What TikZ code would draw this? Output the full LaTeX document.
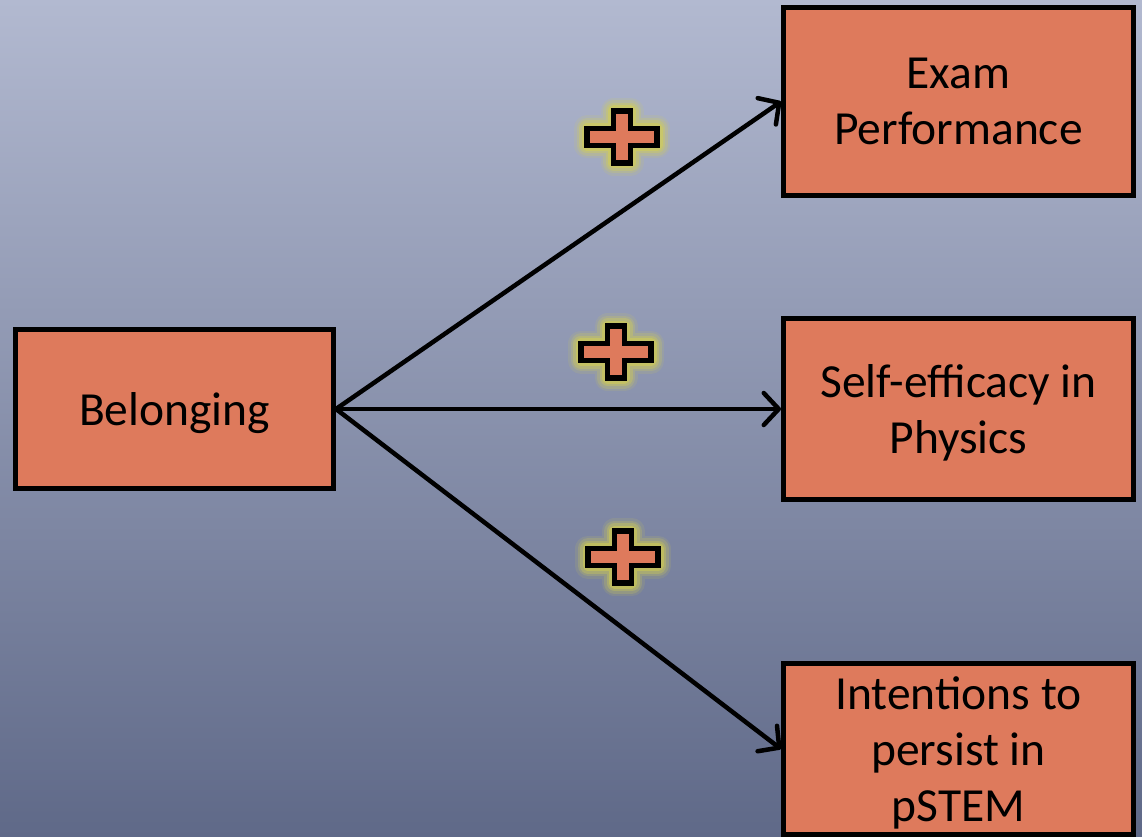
\documentclass[tikz,border=0pt]{standalone}
\usepackage{fontspec}
\setmainfont{Carlito}
\usepackage{tikz}
\usetikzlibrary{positioning,arrows.meta}

\definecolor{boxfill}{HTML}{DE7A5C}
\definecolor{bgtop}{HTML}{B2B9D0}
\definecolor{bgbottom}{HTML}{5F6988}
\definecolor{glow}{HTML}{D8D24A}

\begin{document}
\begin{tikzpicture}[
    x=1pt, y=-1pt,
    factor/.style={draw=black, line width=5pt, fill=boxfill, align=center,
        inner sep=0pt, text depth=0pt, font=\fontsize{47.5}{56}\selectfont},
    edge/.style={draw, line width=4.5pt, line cap=round,
        -{Straight Barb[length=15pt, width=32pt, line cap=round, line join=round]}},
    plusmark/.pic={
        \foreach \w/\o in {26/0.12, 21/0.2, 16/0.3, 11/0.45}
            \draw[glow, line width=\w pt, opacity=\o, line join=round]
                (-35,-8.5) -- (-8.5,-8.5) -- (-8.5,-26) -- (8.5,-26) -- (8.5,-8.5) -- (35,-8.5)
                -- (35,8.5) -- (8.5,8.5) -- (8.5,26) -- (-8.5,26) -- (-8.5,8.5) -- (-35,8.5) -- cycle;
        \draw[fill=boxfill, line width=5.5pt, line join=miter]
            (-35,-8.5) -- (-8.5,-8.5) -- (-8.5,-26) -- (8.5,-26) -- (8.5,-8.5) -- (35,-8.5)
            -- (35,8.5) -- (8.5,8.5) -- (8.5,26) -- (-8.5,26) -- (-8.5,8.5) -- (-35,8.5) -- cycle;
    }
]

% Background
\useasboundingbox (0,0) rectangle (1142,837);
\shade[top color=bgtop, bottom color=bgbottom] (0,0) rectangle (1142,837);

% Factor boxes
\node[factor, minimum width=318pt, minimum height=159pt] (bel) at (174.5,409) {Belonging};
\node[factor, minimum width=350pt, minimum height=188pt] (exam) at (958.5,101.5) {Exam\\Performance};
\node[factor, minimum width=350pt, minimum height=181pt] (self) at (958.5,409) {Self-efficacy in\\Physics};
\node[factor, minimum width=350pt, minimum height=171pt] (intent) at (958.5,749) {Intentions to\\persist in\\pSTEM};

% Paths
\draw[edge] (bel.east) -- (exam.west);
\draw[edge] (bel.east) -- (self.west);
\draw[edge] (bel.east) -- (intent.west);

% Positive effects
\pic (pexam) at (622,137) {plusmark};
\pic (pself) at (616,352) {plusmark};
\pic (pintent) at (623,557) {plusmark};

\end{tikzpicture}
\end{document}
